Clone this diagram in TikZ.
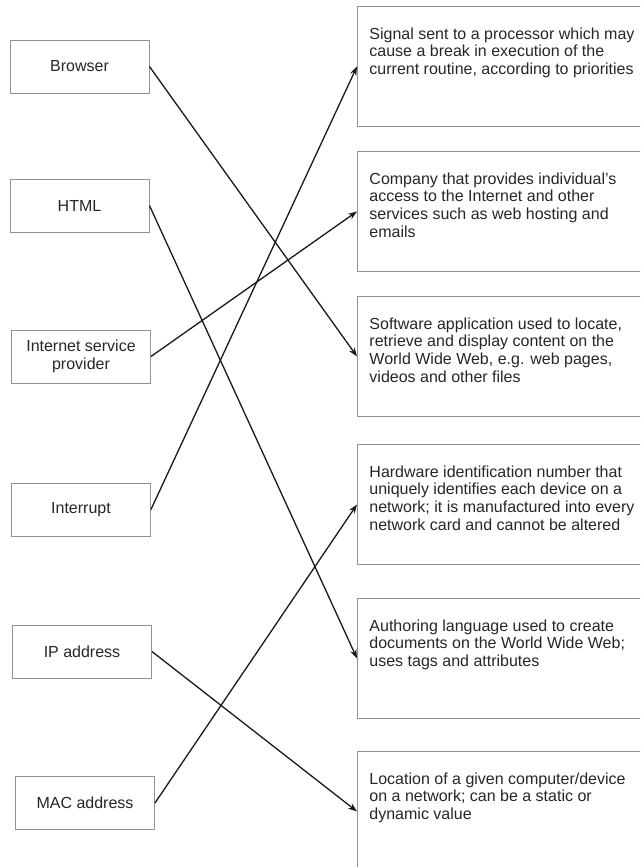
\documentclass[tikz,border=0pt]{standalone}
\usepackage{fontspec}
\setmainfont{Liberation Sans}
\usetikzlibrary{arrows.meta}

\tikzset{
	term/.style={draw=gray!85, line width=0.9pt, minimum width=139pt, minimum height=53pt,
		align=center, inner sep=0pt},
	defn/.style={draw=gray!85, line width=0.9pt, anchor=north west, inner xsep=12pt, inner ysep=0pt},
	link/.style={line width=1.3pt, draw=black!90, -{Stealth[length=9pt, width=6.5pt]}},
}
\newcommand{\deftext}[1]{\parbox[c][120pt][t]{290pt}{\vspace*{21pt}\raggedright #1}}

\begin{document}
\begin{tikzpicture}[x=1pt, y=-1pt,
		every node/.style={font=\fontsize{16}{17.8}\selectfont, text=black!85}]
		\useasboundingbox (0, 0) rectangle (640, 867);
		\clip (0, 0) rectangle (640, 867);

		% terms
		\node[term] (browser) at (79.5, 66.5) {Browser};
		\node[term] (html) at (79.5, 205.5) {HTML};
		\node[term] (isp) at (81, 356.5) {Internet service\\provider};
		\node[term] (interrupt) at (81, 509.5) {Interrupt};
		\node[term] (ip) at (82, 651.5) {IP address};
		\node[term] (mac) at (85, 803) {MAC address};

		% descriptions
		\node[defn] (d1) at (357, 6) {\deftext{Signal sent to a processor which may\\
			cause a break in execution of the\\
			current routine, according to priorities}};
		\node[defn] (d2) at (357, 151) {\deftext{Company that provides individual's\\
			access to the Internet and other\\
			services such as web hosting and\\
			emails}};
		\node[defn] (d3) at (357, 296) {\deftext{Software application used to locate,\\
			retrieve and display content on the\\
			World Wide Web, e.g. web pages,\\
			videos and other files}};
		\node[defn] (d4) at (357, 444) {\deftext{Hardware identification number that\\
			uniquely identifies each device on a\\
			network; it is manufactured into every\\
			network card and cannot be altered}};
		\node[defn] (d5) at (357, 598) {\deftext{Authoring language used to create\\
			documents on the World Wide Web;\\
			uses tags and attributes}};
		\node[defn] (d6) at (357, 751) {\deftext{Location of a given computer/device\\
			on a network; can be a static or\\
			dynamic value}};

		\draw[link] (browser.east) -- (d3.west);
		\draw[link] (html.east) -- (d5.west);
		\draw[link] (isp.east) -- (d2.west);
		\draw[link] (interrupt.east) -- (d1.west);
		\draw[link] (ip.east) -- (d6.west);
		\draw[link] (mac.east) -- (d4.west);
	\end{tikzpicture}
\end{document}
